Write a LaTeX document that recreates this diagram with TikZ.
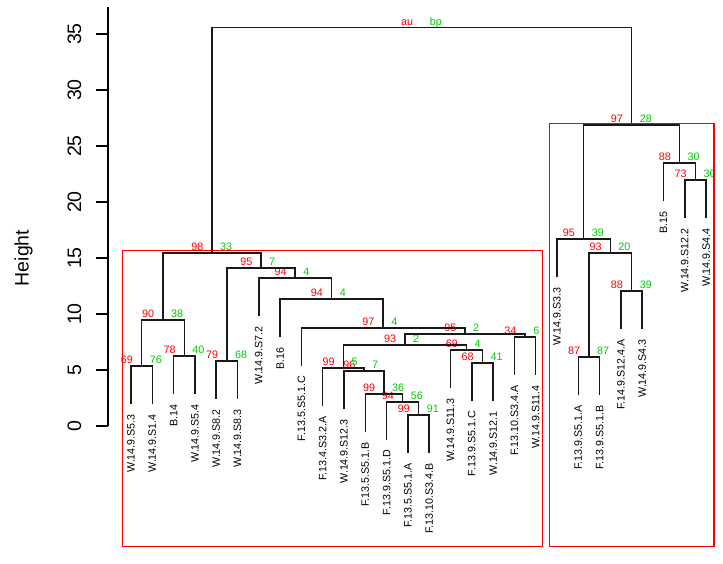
\documentclass[tikz,border=0pt]{standalone}
\usepackage{fontspec}
\setmainfont{Liberation Sans}
\usetikzlibrary{calc}
\definecolor{aured}{HTML}{FF0000}
\definecolor{bpgreen}{HTML}{00CD00}
\tikzset{
  dend/.style={line width=1.5pt, draw=black!90},
  leaflab/.style={font=\fontsize{10.7}{12}\selectfont, rotate=90, anchor=east, inner sep=0pt},
  aulab/.style={text=aured, font=\fontsize{10.8}{12}\selectfont, anchor=base east, inner sep=0pt},
  bplab/.style={text=bpgreen, font=\fontsize{10.8}{12}\selectfont, anchor=base west, inner sep=0pt},
  pvrect/.style={draw=aured, line width=1.5pt, inner sep=0pt},
  ticklab/.style={font=\fontsize{19.5}{22}\selectfont, rotate=90, inner sep=0pt},
}
\newcommand{\leafnode}[4]{%
  \coordinate (#1) at (#2,#3);
  \node[leaflab] (#1lab) at (#2,#3+10) {#4};
}
\newcommand{\mergenode}[6]{%
  \path let \p1=(#2), \p2=(#3) in coordinate (#1) at ({0.5*\x1+0.5*\x2},#4);
  \draw[dend] (#2) |- (#1) -| (#3);
  \node[aulab] (#1au) at ([xshift=-8.5pt,yshift=2.2pt]#1) {#5};
  \node[bplab] (#1bp) at ([xshift=8pt,yshift=2.2pt]#1) {#6};
}
\begin{document}
\begin{tikzpicture}[x=1pt,y=-1pt]
\useasboundingbox (0,0) rectangle (723,563);
% axis
\coordinate (axtop) at (108,7);
\coordinate (axbot) at (108,426);
\draw[line width=1.2pt] (axtop) -- (axbot);
\foreach \v in {0,5,...,35} {
  \coordinate (tk\v) at (108,{426-11.2*\v});
  \draw[line width=1.2pt] (tk\v) -- ++(-12,0);
  \node[ticklab] (tl\v) at (74.5,{426-11.2*\v}) {\v};
}
\node[ticklab] (ylab) at (23.5,258) {Height};
% leaves
\leafnode{l1}{131.0}{404}{W.14.9.S5.3}
\leafnode{l2}{152.3}{404}{W.14.9.S1.4}
\leafnode{l3}{173.6}{394}{B.14}
\leafnode{l4}{194.9}{394}{W.14.9.S5.4}
\leafnode{l5}{216.2}{399}{W.14.9.S8.2}
\leafnode{l6}{237.5}{399}{W.14.9.S8.3}
\leafnode{l7}{258.8}{316}{W.14.9.S7.2}
\leafnode{l8}{280.1}{337}{B.16}
\leafnode{l9}{301.4}{366}{F.13.5.S5.1.C}
\leafnode{l10}{322.7}{406}{F.13.4.S3.2.A}
\leafnode{l11}{344.0}{409}{W.14.9.S12.3}
\leafnode{l12}{365.3}{432}{F.13.5.S5.1.B}
\leafnode{l13}{386.6}{440}{F.13.9.S5.1.D}
\leafnode{l14}{407.9}{453}{F.13.5.S5.1.A}
\leafnode{l15}{429.2}{453}{F.13.10.S3.4.B}
\leafnode{l16}{450.5}{388}{W.14.9.S11.3}
\leafnode{l17}{471.8}{401}{F.13.9.S5.1.C}
\leafnode{l18}{493.1}{401}{W.14.9.S12.1}
\leafnode{l19}{514.4}{375}{F.13.10.S3.4.A}
\leafnode{l20}{535.7}{375}{W.14.9.S11.4}
\leafnode{l21}{557.0}{277}{W.14.9.S3.3}
\leafnode{l22}{578.3}{395}{F.13.9.S5.1.A}
\leafnode{l23}{599.6}{395}{F.13.9.S5.1.B}
\leafnode{l24}{620.9}{329}{F.14.9.S12.4.A}
\leafnode{l25}{642.2}{329}{W.14.9.S4.3}
\leafnode{l26}{663.5}{201}{B.15}
\leafnode{l27}{684.8}{218}{W.14.9.S12.2}
\leafnode{l28}{706.1}{218}{W.14.9.S4.4}
% merges (left cluster)
\mergenode{n1}{l1}{l2}{366}{69}{76}
\mergenode{n2}{l3}{l4}{356}{78}{40}
\mergenode{n3}{l5}{l6}{361}{79}{68}
\mergenode{n4}{n1}{n2}{320}{90}{38}
\mergenode{n5}{l19}{l20}{337}{34}{6}
\mergenode{n6}{l17}{l18}{363}{68}{41}
\mergenode{n7}{l16}{n6}{350}{69}{4}
\mergenode{n8}{l14}{l15}{415}{99}{91}
\mergenode{n9}{l13}{n8}{402}{94}{56}
\mergenode{n10}{l12}{n9}{394}{99}{36}
\mergenode{n11}{l11}{n10}{371}{96}{7}
\mergenode{n12}{l10}{n11}{368}{99}{5}
\mergenode{n13}{n12}{n7}{345}{93}{2}
\mergenode{n14}{n13}{n5}{334}{95}{2}
\mergenode{n15}{l9}{n14}{328}{97}{4}
\mergenode{n16}{l8}{n15}{299}{94}{4}
\mergenode{n17}{l7}{n16}{278}{94}{4}
\mergenode{n18}{n3}{n17}{268}{95}{7}
\mergenode{n19}{n4}{n18}{253}{98}{33}
% merges (right cluster)
\mergenode{n20}{l22}{l23}{357}{87}{87}
\mergenode{n21}{l24}{l25}{291}{88}{39}
\mergenode{n22}{n20}{n21}{253}{93}{20}
\mergenode{n23}{l21}{n22}{239}{95}{39}
\mergenode{n24}{l27}{l28}{180}{73}{30}
\mergenode{n25}{l26}{n24}{163}{88}{30}
\mergenode{n26}{n23}{n25}{125}{97}{28}
% root
\mergenode{root}{n19}{n26}{27.5}{au}{bp}
% cluster rectangles
\node[pvrect, minimum width=420pt, minimum height=296pt] (clusterA) at (332.7,398.7) {};
\node[pvrect, minimum width=164.7pt, minimum height=423.4pt] (clusterB) at (631.65,335) {};
\end{tikzpicture}
\end{document}
